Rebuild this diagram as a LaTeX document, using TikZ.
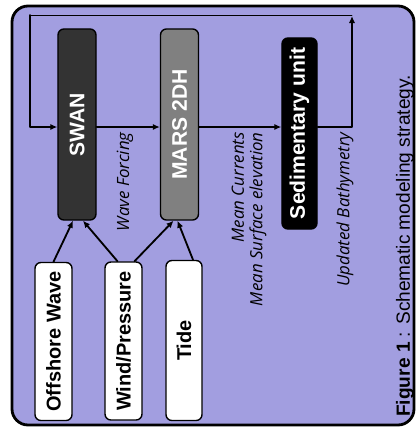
\documentclass[tikz,border=0pt]{standalone}
\usepackage{fontspec}
\setmainfont{Liberation Sans}
\newfontfamily\notefont{Open Sans}
\usetikzlibrary{arrows.meta,calc}

\definecolor{panel}{RGB}{162,158,224}
\definecolor{swangray}{RGB}{51,51,51}
\definecolor{marsgray}{RGB}{128,128,128}

\begin{document}
\begin{tikzpicture}[x=0.025cm, y=-0.025cm, line join=round, line cap=round,
    box/.style={draw, line width=1pt, rounded corners=0.15cm, inner sep=0pt,
      font=\fontsize{15}{15}\selectfont\bfseries},
    model/.style={box, text=white, minimum width=0.95cm, minimum height=4.775cm},
    source/.style={box, fill=white, minimum width=0.925cm, minimum height=3.95cm,
      font=\fontsize{14.2}{14.2}\selectfont\bfseries},
    flow/.style={line width=1.3pt, -{Latex[length=5pt,width=4.5pt]}},
    note/.style={rotate=90, anchor=east, inner sep=0pt, align=right,
      font=\notefont\itshape\fontsize{12}{13.2}\selectfont}]
      \useasboundingbox (0,0) rectangle (415,428);

      % background panel
      \draw [line width=2pt, fill=panel, rounded corners=0.4cm] (12,6) rectangle (414,425);

      % feedback loop corners
      \coordinate (loop sw) at (30,127);
      \coordinate (loop nw) at (30,15);
      \coordinate (loop ne) at (352,15);
      \coordinate (loop se) at (352,127);

      % models
      \node [model, fill=swangray] (swan) at (77,124.5) {\rotatebox{90}{SWAN}};
      \node [model, fill=marsgray] (mars) at (179.5,124.5) {\rotatebox{90}{MARS 2DH}};
      \node [model, fill=black, minimum width=0.875cm] (sed) at (299.5,133.5) {\rotatebox{90}{Sedimentary unit}};

      % forcings
      \node [source] (offshore) at (53.5,341.5) {\rotatebox{90}{Offshore Wave}};
      \node [source] (wind) at (123.5,341) {\rotatebox{90}{Wind/Pressure}};
      \node [source, minimum height=4cm, minimum width=0.9cm] (tide) at (184,340.5) {\rotatebox{90}{Tide}};

      % main chain
      \draw (loop nw) -- (loop ne);
      \draw [flow] (loop nw) -- (loop sw) -- (swan.west |- loop sw);
      \draw [flow] (swan.east |- loop sw) -- (mars.west |- loop sw);
      \draw [flow] (mars.east |- loop sw) -- (sed.west |- loop sw);
      \draw [flow] (sed.east |- loop se) -- (loop se) -- ($(loop ne)+(0,1)$);

      % forcing inputs
      \draw [flow] (offshore.north) -- ($(swan.south)+(-4,0)$);
      \draw [flow] ($(wind.north)+(-6,0)$) -- ($(swan.south)+(6,0)$);
      \draw [flow] ($(wind.north)+(11,0)$) -- ($(mars.south)+(-6,0)$);
      \draw [flow] ($(tide.north)+(9,0)$) -- ($(mars.south)+(-2,0)$);

      % exchanged fields
      \node [note] (wave forcing) at (125,132) {Wave Forcing};
      \node [note] (mean fields) at (249,132) {Mean Currents\\Mean Surface elevation};
      \node [note] (bathy) at (345,132) {Updated Bathymetry};

      \node [rotate=90, anchor=west, inner sep=0pt, font=\fontsize{13.6}{13.6}\selectfont]
        (caption) at (405,417) {\textbf{Figure 1} : Schematic modeling strategy.};
    \end{tikzpicture}
\end{document}
